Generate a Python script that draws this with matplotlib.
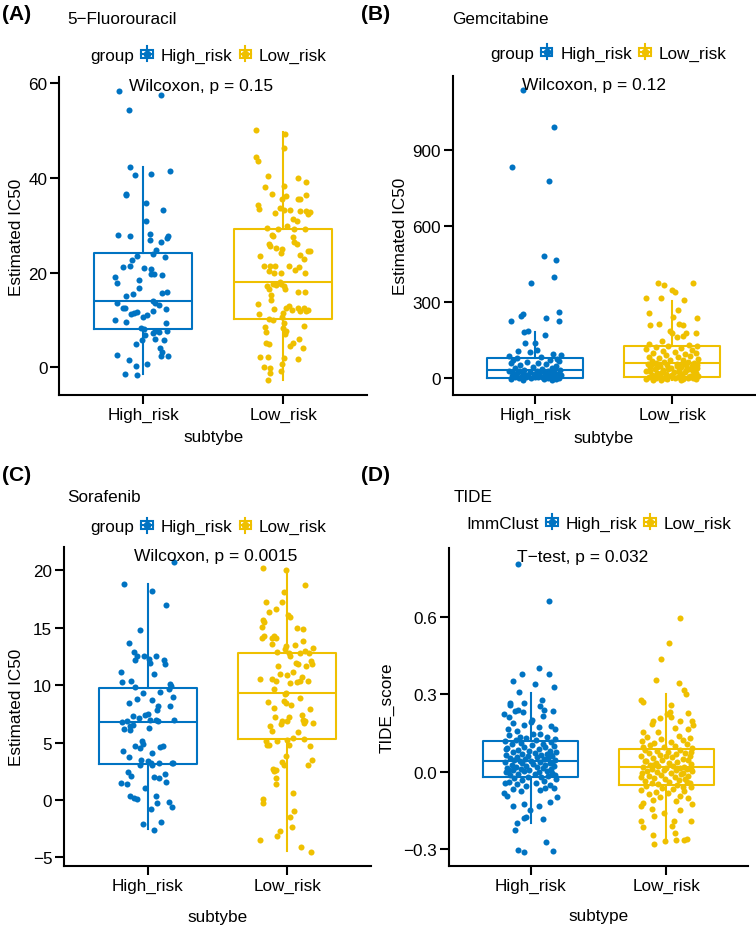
import numpy as np
import matplotlib
matplotlib.use("Agg")
import matplotlib.pyplot as plt
from matplotlib.lines import Line2D
from matplotlib.patches import Rectangle
from matplotlib.legend_handler import HandlerBase
import matplotlib.transforms as mtransforms

plt.rcParams["font.family"] = ["Liberation Sans", "DejaVu Sans"]

BLUE = "#0073C2"
YELLOW = "#EFC000"
groups = ["High_risk", "Low_risk"]

# ---------------- data ----------------
# (A) 5-Fluorouracil
a_high = [58.2, 57.5, 54.2, 42.3, 40.6, 40.8, 41.4, 36.3, 36.5, 34.7, 33.1, 30.8, 28.0, 27.8,
          28.2, 27.7, 27.3, 26.5, 26.9, 24.8, 23.9, 23.3, 23.5, 22.7, 21.4, 21.1, 21.0, 20.8,
          19.6, 19.6, 19.5, 19.0, 17.8, 18.5, 16.8, 15.6, 15.9, 15.4, 15.1, 14.1, 13.5, 13.5,
          13.1, 12.6, 12.5, 12.3, 11.9, 11.4, 11.6, 11.2, 10.7, 11.1, 10.1, 9.5, 9.3, 8.4,
          8.1, 7.6, 7.4, 7.6, 7.3, 6.9, 5.8, 4.9, 6.0, 5.7, 4.1, 3.2, 2.4, 2.5, 2.6, 1.6,
          0.4, 0.8, -1.3, -1.5]
a_high_jit = [-0.175, 0.129, -0.10, -0.093, -0.057, 0.055, 0.191, -0.12, -0.124, 0.017, 0.144,
              0.017, -0.177, -0.098, 0.048, 0.179, 0.167, 0.124, 0.048, 0.089, 0.072, 0.156,
              -0.041, -0.081, -0.096, -0.148, 0.007, 0.053, 0.055, 0.077, 0.134, -0.199, -0.187,
              -0.033, -0.031, 0.136, 0.172, -0.072, -0.12, 0.069, 0.086, -0.191, 0.115, -0.148,
              -0.132, 0.163, 0.067, -0.065, -0.041, -0.084, -0.005, 0.029, -0.199, -0.124, 0.16,
              -0.017, 0.007, 0.081, 0.11, 0.172, 0.067, 0.012, -0.01, -0.05, 0.081, 0.148, 0.122,
              0.136, 0.127, 0.179, -0.187, -0.103, -0.055, 0.029, -0.129, -0.048]
a_low = [50.0, 49.1, 46.3, 44.4, 43.4, 40.3, 40.0, 39.0, 38.3, 38.0, 36.6, 36.1, 35.6, 35.5,
         35.5, 36.4, 34.2, 33.3, 33.7, 33.1, 33.1, 33.0, 33.0, 32.8, 32.3, 32.6, 31.2, 30.9,
         29.9, 29.3, 29.1, 29.1, 29.1, 28.0, 27.7, 27.5, 26.5, 26.1, 26.0, 25.6, 25.2, 24.9,
         24.5, 24.5, 24.2, 23.7, 23.4, 22.9, 21.3, 21.3, 21.4, 21.4, 21.2, 20.5, 20.4, 19.9,
         20.0, 19.9, 18.0, 17.5, 17.5, 17.2, 17.3, 17.2, 16.6, 16.5, 15.8, 15.8, 15.3, 14.2,
         13.3, 13.0, 12.6, 12.1, 12.6, 12.6, 12.1, 11.8, 11.9, 12.4, 11.2, 11.4, 10.7, 10.3,
         9.9, 9.4, 8.4, 7.7, 7.1, 8.5, 7.4, 8.8, 6.0, 5.1, 4.6, 4.0, 5.2, 4.9, 2.2, 2.2,
         2.0, 1.7, 0.8, 0.2, -0.2, -1.1, -0.8, -2.7]
a_low_jit = [-0.196, 0.017, 0.01, -0.196, -0.182, -0.11, 0.105, 0.167, 0.01, -0.132, -0.081,
             0.024, -0.01, 0.108, 0.122, 0.165, -0.179, -0.172, -0.019, 0.01, 0.048, 0.12, 0.165,
             0.189, 0.175, -0.055, 0.069, 0.1, 0.031, -0.115, -0.038, 0.077, 0.16, -0.079, -0.072,
             0.069, 0.079, 0.098, -0.1, -0.096, -0.048, -0.007, 0.191, 0.177, -0.012, 0.124,
             -0.165, 0.153, -0.139, -0.091, -0.06, 0.043, 0.117, 0.086, -0.1, -0.065, -0.012,
             0.16, -0.024, -0.012, -0.069, -0.115, -0.048, 0.005, 0.012, -0.1, 0.11, 0.156,
             -0.086, -0.086, -0.182, 0.041, 0.022, 0.065, 0.11, 0.153, 0.177, 0.163, 0.124,
             -0.062, -0.175, -0.002, -0.007, -0.1, -0.069, 0.007, 0.002, 0.019, 0.017, -0.132,
             -0.12, 0.153, 0.112, 0.069, 0.053, 0.141, -0.122, -0.1, -0.105, -0.165, 0.01, 0.105,
             -0.007, -0.136, -0.091, -0.096, -0.017, -0.11]
# box stats: q1, median, q3, lower whisker, upper whisker
a_box = {"High_risk": [8.1, 14.1, 24.1, -1.4, 42.2], "Low_risk": [10.3, 18.0, 29.1, -2.7, 49.7]}

# (B) Gemcitabine
b_high = [1137, 992, 834, 779, 484, 466, 401, 376, 262, 253, 247, 226, 239, 225, 183, 184, 170,
          139, 139, 105, 103, 109, 96, 92, 75,
          88, 84, 78, 72, 70, 67, 64, 61, 58, 55, 52, 48, 45, 41, 38, 34, 31, 30, 29, 28, 27,
          26, 25, 24, 23, 22, 21, 19, 18, 17, 16, 15, 13, 12, 11, 10, 8, 7, 6, 5, 5, 3, 3, 2,
          1, 0, -1, -2, -3, -5, -6, -9, 4, 9, 14, 20]
b_high_jit = [-0.092, 0.138, -0.167, 0.097, 0.063, 0.152, 0.135, -0.029, 0.174, -0.092, -0.101,
              -0.176, 0.08, 0.171, -0.08, -0.051, 0.072, -0.075, -0.005, -0.123, -0.036, 0.014,
              0.13, 0.188, 0.155,
              -0.19, 0.04, -0.13, 0.11, -0.16, 0.17, -0.06, 0.02, -0.18, 0.08, -0.11, 0.15, -0.02,
              0.12, -0.15, 0.05, -0.08, 0.18, -0.19, 0.01, 0.09, -0.12, 0.14, -0.04, 0.06, -0.17,
              0.11, -0.09, 0.03, 0.16, -0.14, -0.01, 0.07, -0.06, 0.19, -0.17, 0.1, -0.1, 0.0,
              0.13, -0.15, 0.05, -0.07, 0.17, -0.12, 0.09, -0.03, 0.15, -0.18, 0.06, -0.09, 0.12,
              0.02, -0.05, 0.12, -0.13]
b_low = [376, 368, 374, 318, 318, 349, 341, 308, 257, 267, 236, 240, 211, 213, 213, 209, 187,
         176, 176, 176, 163, 165, 147, 134,
         131, 128, 125, 121, 117, 114, 110, 107, 104, 100, 97, 94, 91, 88, 85, 82, 79, 76, 73,
         70, 67, 64, 62, 60, 58, 56, 54, 52, 50, 48, 46, 44, 42, 40, 38, 36, 34, 32, 30, 28,
         26, 24, 22, 20, 18, 16, 14, 12, 10, 9, 7, 6, 4, 3, 2, 1, 0, 0, -1, -2, -3, -4, -5,
         -6, -8, -9, 5, 8, 11, 15, 19, 23, 27, 31, 35, 39, 43, 47, 51, 55, 57]
b_low_jit = [-0.106, -0.063, 0.15, -0.196, -0.082, -0.002, 0.017, 0.087, -0.171, 0.043, 0.176,
             0.007, -0.164, -0.099, 0.051, 0.077, -0.014, 0.0, 0.101, 0.169, 0.036, 0.077,
             -0.075, -0.174,
             0.12, -0.03, 0.18, -0.12, 0.06, -0.19, 0.14, -0.07, 0.02, 0.17, -0.14, 0.09, -0.05,
             0.13, -0.17, 0.04, -0.1, 0.19, -0.02, 0.08, -0.15, 0.11, -0.06, 0.16, -0.12, 0.03,
             -0.18, 0.1, -0.04, 0.14, -0.09, 0.06, -0.16, 0.18, -0.01, 0.12, -0.13, 0.05, -0.07,
             0.15, -0.19, 0.01, 0.09, -0.11, 0.17, -0.05, 0.07, -0.15, 0.13, -0.02, 0.19, -0.09,
             0.04, -0.17, 0.11, -0.06, 0.15, -0.12, 0.02, -0.19, 0.08, -0.04, 0.17, -0.14, 0.06,
             -0.08, 0.12, -0.13, 0.0, 0.16, -0.08, 0.05, -0.16, 0.1, -0.03, 0.14, -0.11, 0.03,
             0.18, -0.15, 0.07]
b_box = {"High_risk": [0, 30, 80, -4, 183], "Low_risk": [4, 58, 128, -8, 305]}

# (C) Sorafenib
c_high = [20.7, 18.8, 18.2, 17.0, 14.8, 13.7, 12.9, 12.5, 12.2, 12.5, 12.3, 12.5, 11.9, 12.2,
          11.8, 11.0, 11.1, 10.3, 10.4, 10.1, 9.9, 9.7, 9.0, 9.4, 9.8, 9.3, 8.7, 8.4, 8.8, 8.2,
          7.8, 8.2, 7.5, 7.4, 7.3, 7.1, 7.0, 7.0, 6.9, 7.0, 6.8, 6.9, 6.4, 6.2, 6.1, 6.5, 6.3,
          5.1, 4.9, 4.7, 4.5, 4.7, 4.6, 4.3, 4.1, 3.7, 3.5, 3.4, 3.2, 3.0, 3.2, 3.2, 3.2, 3.0,
          2.4, 2.1, 2.0, 1.9, 1.6, 2.3, 1.5, 1.4, 1.0, 0.3, 0.2, 0.1, 0.3, -0.2, -0.3, -0.6,
          -0.8, -2.1, -1.9, -2.6]
c_high_jit = [0.189, -0.173, 0.031, 0.132, -0.055, -0.132, -0.096, -0.079, -0.089, -0.024, 0.012,
              0.062, 0.017, 0.115, 0.125, 0.048, -0.189, -0.182, -0.118, 0.161, 0.168, 0.149,
              0.18, 0.089, -0.091, -0.031, 0.029, -0.134, -0.079, 0.074, 0.067, 0.163, 0.002,
              -0.017, -0.106, -0.06, 0.019, 0.058, 0.074, 0.189, -0.185, -0.146, -0.125, -0.173,
              -0.127, -0.108, 0.012, -0.043, -0.031, -0.091, -0.055, 0.11, 0.091, -0.175, 0.034,
              -0.137, -0.048, 0.005, 0.026, -0.055, 0.079, 0.173, 0.18, 0.03, -0.144, -0.122,
              0.048, 0.079, 0.132, 0.122, -0.194, -0.146, -0.019, -0.127, -0.096, -0.074, 0.058,
              0.156, 0.065, 0.173, 0.022, -0.031, 0.096, 0.048]
c_low = [20.2, 20.0, 18.7, 18.1, 17.2, 17.2, 16.6, 16.4, 16.1, 15.9, 15.7, 15.5, 15.1, 15.0,
         14.9, 14.3, 14.1, 14.1, 14.3, 14.1, 13.8, 13.6, 13.4, 13.5, 13.2, 13.1, 13.0, 12.9,
         12.8, 12.5, 12.8, 12.8, 12.1, 11.8, 11.7, 11.8, 11.9, 11.7, 11.1, 10.7, 10.4, 10.4,
         10.9, 11.0, 10.5, 10.4, 10.5, 10.2, 10.3, 9.7, 9.3, 9.2, 8.9, 8.5, 8.6, 8.4, 8.3, 8.0,
         7.9, 7.4, 7.0, 6.7, 6.7, 6.9, 7.2, 6.9, 7.2, 6.9, 6.6, 6.4, 6.0, 5.9, 5.4, 5.3, 5.1,
         4.8, 4.8, 5.1, 5.2, 4.8, 4.7, 3.8, 3.5, 3.3, 3.0, 3.0, 2.7, 2.6, 2.5, 1.9, 1.4, 0.6,
         0.1, -0.3, -1.0, -1.5, -2.4, -2.7, -3.1, -3.5, -4.1, -4.5]
c_low_jit = [-0.173, -0.01, 0.127, -0.022, -0.149, -0.036, -0.082, -0.134, 0.005, 0.022, -0.173,
             -0.165, -0.18, 0.072, 0.11, -0.096, -0.11, -0.084, -0.17, -0.18, 0.115, -0.108,
             -0.012, 0.058, 0.182, -0.017, 0.127, -0.077, 0.012, 0.019, 0.089, 0.153, 0.17,
             0.177, 0.132, 0.079, 0.062, -0.067, 0.043, 0.103, 0.151, 0.091, -0.005, -0.055,
             -0.106, -0.082, -0.194, 0.017, 0.067, -0.096, -0.01, -0.017, 0.089, -0.137, -0.024,
             -0.012, 0.029, -0.096, 0.163, 0.103, 0.115, 0.12, 0.187, 0.127, 0.014, 0.0, -0.086,
             -0.041, -0.048, -0.125, -0.113, 0.079, 0.043, 0.118, -0.153, -0.129, -0.146, -0.072,
             0.0, 0.014, 0.165, -0.01, 0.18, -0.041, -0.024, 0.149, -0.101, -0.079, -0.096,
             -0.084, -0.084, 0.038, -0.177, -0.177, 0.046, 0.022, 0.034, -0.055, -0.077, -0.197,
             0.098, 0.168]
c_box = {"High_risk": [3.16, 6.82, 9.72, -2.55, 18.8], "Low_risk": [5.28, 9.35, 12.83, -4.44, 20.0]}

# (D) TIDE
d_high = [0.805, 0.659, 0.400, 0.380, 0.380, 0.351, 0.340, 0.328, 0.308, 0.279, 0.265, 0.260,
          0.265, 0.255, 0.238, 0.237, 0.223, 0.234, 0.238, 0.232, 0.202, 0.193, 0.188, 0.166,
          0.166, 0.157, -0.227, -0.200, -0.180, -0.175, -0.148, -0.133, -0.124, -0.133, -0.182,
          -0.116, -0.098, -0.081, -0.094, -0.304, -0.309, -0.272, -0.306,
          0.148, 0.142, 0.136, 0.131, 0.127, 0.124, 0.121, 0.118, 0.115, 0.112, 0.109, 0.106,
          0.103, 0.100, 0.097, 0.094, 0.091, 0.088, 0.085, 0.082, 0.080, 0.078, 0.075, 0.073,
          0.070, 0.068, 0.066, 0.064, 0.062, 0.060, 0.058, 0.056, 0.054, 0.052, 0.050, 0.048,
          0.046, 0.044, 0.042, 0.040, 0.038, 0.036, 0.034, 0.032, 0.030, 0.028, 0.026, 0.024,
          0.022, 0.020, 0.018, 0.016, 0.014, 0.012, 0.010, 0.008, 0.006, 0.004, 0.002, 0.000,
          -0.002, -0.004, -0.007, -0.010, -0.013, -0.016, -0.019, -0.022, -0.025, -0.028,
          -0.031, -0.035, -0.039, -0.043, -0.047, -0.051, -0.056, -0.061, -0.066, -0.071,
          -0.076, -0.062, -0.045, -0.012, 0.005, 0.033, 0.065, 0.087, 0.135, 0.145, 0.178,
          0.182, 0.172, 0.210, 0.215]
d_high_jit = [-0.091, 0.135, 0.059, -0.061, 0.137, -0.127, 0.034, 0.172, -0.083, 0.081, -0.152,
              -0.15, -0.047, 0.069, 0.1, 0.162, -0.196, -0.115, -0.091, -0.059, 0.012, 0.002,
              -0.13, -0.167, 0.179, -0.1, -0.115, -0.096, -0.049, -0.037, -0.002, -0.132, -0.047,
              0.064, 0.091, 0.14, 0.191, -0.194, -0.176, -0.091, -0.049, 0.113, 0.162,
              0.07, -0.16, 0.12, -0.03, 0.18, -0.11, 0.04, -0.19, 0.15, -0.07, 0.09, -0.14, 0.01,
              0.17, -0.05, 0.11, -0.17, 0.06, -0.09, 0.14, -0.01, 0.19, -0.13, 0.03, -0.06, 0.12,
              -0.18, 0.08, -0.02, 0.16, -0.1, 0.05, -0.15, 0.13, -0.04, 0.1, -0.12, 0.18, 0.0,
              -0.08, 0.07, -0.19, 0.14, -0.06, 0.02, -0.14, 0.11, -0.03, 0.17, -0.11, 0.05,
              -0.17, 0.09, -0.07, 0.15, -0.01, -0.13, 0.12, -0.05, 0.06, -0.18, 0.16, -0.09,
              0.03, -0.15, 0.13, -0.02, 0.08, -0.12, 0.19, -0.06, 0.1, -0.16, 0.04, -0.1, 0.14,
              -0.03, 0.17, -0.13, 0.07, -0.07, 0.11, -0.19, 0.18, -0.16, 0.16, 0.15, -0.18,
              -0.08, 0.02, 0.15, -0.05, 0.06, -0.16, 0.09]
d_low = [0.595, 0.498, 0.435, 0.357, 0.345, 0.315, 0.299, 0.276, 0.268, 0.233, 0.211, 0.224,
         0.227, 0.198, 0.209, 0.196, 0.196, 0.179, 0.155, 0.152, -0.133, -0.144, -0.190, -0.214,
         -0.245, -0.278, -0.268, -0.238, -0.265, -0.264, -0.261, -0.190, -0.126, -0.161,
         -0.190,
         0.140, 0.135, 0.130, 0.126, 0.122, 0.118, 0.114, 0.110, 0.106, 0.102, 0.098, 0.094,
         0.090, 0.086, 0.083, 0.080, 0.077, 0.074, 0.071, 0.068, 0.065, 0.062, 0.059, 0.056,
         0.053, 0.050, 0.047, 0.044, 0.041, 0.038, 0.035, 0.032, 0.029, 0.026, 0.024, 0.022,
         0.020, 0.018, 0.016, 0.014, 0.012, 0.010, 0.008, 0.006, 0.004, 0.002, 0.000, -0.003,
         -0.006, -0.009, -0.012, -0.015, -0.018, -0.021, -0.024, -0.027, -0.030, -0.033,
         -0.036, -0.039, -0.042, -0.045, -0.048, -0.051, -0.054, -0.058, -0.062, -0.066,
         -0.070, -0.074, -0.078, -0.082, -0.087, -0.092, -0.097, -0.103, -0.109, -0.115,
         -0.121, -0.060, -0.040, -0.020, 0.011, 0.043, 0.076, 0.097, -0.005, 0.025, 0.060,
         0.170, 0.185, 0.165, 0.260, -0.150, -0.170, -0.210]
d_low_jit = [0.1, 0.017, -0.037, -0.078, 0.091, 0.13, 0.145, -0.184, -0.169, 0.027, 0.037, 0.002,
             0.159, -0.098, -0.044, 0.098, 0.186, 0.194, -0.169, -0.059, -0.184, -0.11, -0.184,
             -0.172, -0.1, -0.091, -0.012, 0.066, 0.069, 0.13, 0.15, 0.184, 0.189, -0.02, 0.056,
             0.09, -0.14, 0.17, -0.04, 0.12, -0.18, 0.03, -0.09, 0.15, -0.12, 0.06, -0.02, 0.19,
             -0.16, 0.1, -0.07, 0.01, 0.14, -0.13, 0.07, -0.05, 0.17, -0.19, 0.04, -0.1, 0.12,
             -0.03, 0.16, -0.15, 0.08, -0.08, 0.02, 0.18, -0.12, 0.05, -0.06, 0.13, -0.17, 0.0,
             0.1, -0.11, 0.15, -0.02, 0.07, -0.14, 0.19, -0.07, 0.03, -0.18, 0.11, -0.04, 0.16,
             -0.13, 0.06, -0.09, 0.14, -0.01, 0.09, -0.16, 0.02, -0.11, 0.17, -0.06, 0.08, -0.15,
             0.12, -0.03, 0.05, -0.19, 0.13, -0.08, 0.01, -0.13, 0.1, -0.05, 0.16, -0.1, 0.07,
             -0.17, 0.18, 0.15, -0.19, 0.18, -0.16, 0.18, -0.17, 0.12, -0.1, 0.0, 0.06, -0.11,
             0.16, 0.03, 0.1, -0.09, 0.04]
d_box = {"High_risk": [-0.021, 0.041, 0.120, -0.200, 0.305],
         "Low_risk": [-0.052, 0.019, 0.089, -0.265, 0.299]}

W, H = 756, 929
LW = 1.5


class BoxKey(HandlerBase):
    """ggplot-like boxplot legend key (box + median + whiskers + point)."""

    def create_artists(self, legend, orig_handle, xdescent, ydescent, width, height,
                       fontsize, trans):
        col = orig_handle.get_color()
        x0, y0 = -xdescent, -ydescent
        if col == "none":
            # blank key in front of the legend title
            return [Line2D([x0], [y0], lw=0, alpha=0, transform=trans)]
        cx = x0 + width / 2
        h = height * 1.15
        y0 = y0 - (h - height) / 2
        arts = [
            Rectangle((x0 + 0.08 * width, y0 + 0.22 * h), 0.84 * width, 0.56 * h,
                      fill=False, ec=col, lw=LW, transform=trans),
            Line2D([x0 + 0.08 * width, x0 + 0.92 * width], [y0 + 0.5 * h] * 2,
                   color=col, lw=LW, transform=trans),
            Line2D([cx, cx], [y0, y0 + 0.22 * h], color=col, lw=LW, transform=trans),
            Line2D([cx, cx], [y0 + 0.78 * h, y0 + h], color=col, lw=LW, transform=trans),
            Line2D([cx], [y0 + 0.5 * h], marker="o", ms=4.5, color=col, lw=0, transform=trans),
        ]
        return arts


def px(x, y):
    return x / W, 1 - y / H


def panel(fig, rect_px, high, high_jit, low, low_jit, box, ylim, yticks, yticklabels,
          title, tag, tag_xy, title_xy, legend_title, legend_xy, stat_label,
          xlabel, ylabel, xlab_y, ylab_x):
    l, r, t, b = rect_px
    ax = fig.add_axes([l / W, 1 - b / H, (r - l) / W, (b - t) / H])

    # boxes (drawn first, points on top)
    for i, (g, col) in enumerate(zip(groups, [BLUE, YELLOW])):
        q1, med, q3, lo, hi = box[g]
        st = {"q1": q1, "med": med, "q3": q3, "whislo": lo, "whishi": hi, "fliers": []}
        ax.bxp([st], positions=[i + 1], widths=0.7, showcaps=False, showfliers=False,
               boxprops=dict(color=col, lw=LW),
               whiskerprops=dict(color=col, lw=LW),
               medianprops=dict(color=col, lw=LW), zorder=2)

    # jittered points
    ax.scatter(1 + np.array(high_jit), high, s=19, color=BLUE, lw=0, zorder=3)
    ax.scatter(2 + np.array(low_jit), low, s=19, color=YELLOW, lw=0, zorder=3)

    ax.set_xlim(0.4, 2.6)
    ax.set_ylim(*ylim)
    ax.set_xticks([1, 2])
    ax.set_xticklabels(groups)
    ax.set_yticks(yticks)
    ax.set_yticklabels(yticklabels)
    for s in ["top", "right"]:
        ax.spines[s].set_visible(False)
    for s in ["left", "bottom"]:
        ax.spines[s].set_linewidth(LW)
    ax.tick_params(length=6.5, width=LW, labelsize=12.3, pad=2, color="black")

    ax.set_xlabel(xlabel, fontsize=12.3, va="center")
    ax.xaxis.set_label_coords(0.5, xlab_y)
    ax.set_ylabel(ylabel, fontsize=12.3, va="center")
    ax.yaxis.set_label_coords(ylab_x, 0.5)

    trans = mtransforms.blended_transform_factory(ax.transData, ax.transAxes)
    ax.text(0.9, 0.973, stat_label, transform=trans, ha="left", va="center", fontsize=12.5)

    fig.text(*px(*tag_xy), tag, fontsize=15, fontweight="bold", ha="left", va="center")
    fig.text(*px(*title_xy), title, fontsize=12.3, ha="left", va="center")

    handles = [Line2D([], [], color="none"), Line2D([], [], color=BLUE),
               Line2D([], [], color=YELLOW)]
    labels = [legend_title] + groups
    fig.legend(handles, labels, handler_map={Line2D: BoxKey()}, ncol=3, frameon=False,
               loc="center left", bbox_to_anchor=px(*legend_xy), fontsize=12.3,
               handlelength=0.8, handleheight=0.8, handletextpad=0.4, columnspacing=0.35,
               borderpad=0, borderaxespad=0)
    return ax


fig = plt.figure(figsize=(W / 100, H / 100), dpi=100)

panel(fig, (59.3, 367, 78, 396), a_high, a_high_jit, a_low, a_low_jit, a_box,
      (-5.8, 61.2), [0, 20, 40, 60], ["0", "20", "40", "60"],
      "5\u2212Fluorouracil", "(A)", (2, 15), (67, 19.5), "group", (70, 56),
      "Wilcoxon, p = 0.15", "subtybe", "Estimated IC50", -0.132, -0.138)

panel(fig, (453, 754.7, 77, 396), b_high, b_high_jit, b_low, b_low_jit, b_box,
      (-67, 1193), [0, 300, 600, 900], ["0", "300", "600", "900"],
      "Gemcitabine", "(B)", (361, 15), (452, 19.5), "group", (469.5, 54),
      "Wilcoxon, p = 0.12", "subtybe", "Estimated IC50", -0.132, -0.173)

panel(fig, (64, 371, 548.3, 867.3), c_high, c_high_jit, c_low, c_low_jit, c_box,
      (-5.78, 22.0), [-5, 0, 5, 10, 15, 20],
      ["\u22125", "0", "5", "10", "15", "20"],
      "Sorafenib", "(C)", (2, 476), (67, 497.3), "group", (70, 527.3),
      "Wilcoxon, p = 0.0015", "subtybe", "Estimated IC50", -0.156, -0.154)

panel(fig, (449, 748, 549, 867.3), d_high, d_high_jit, d_low, d_low_jit, d_box,
      (-0.366, 0.866), [-0.3, 0.0, 0.3, 0.6], ["\u22120.3", "0.0", "0.3", "0.6"],
      "TIDE", "(D)", (361, 476), (454, 497.3), "ImmClust", (446, 524),
      "T\u2212test, p = 0.032", "subtype", "TIDE_score", -0.156, -0.207)

fig.savefig("out.png", dpi=100)
